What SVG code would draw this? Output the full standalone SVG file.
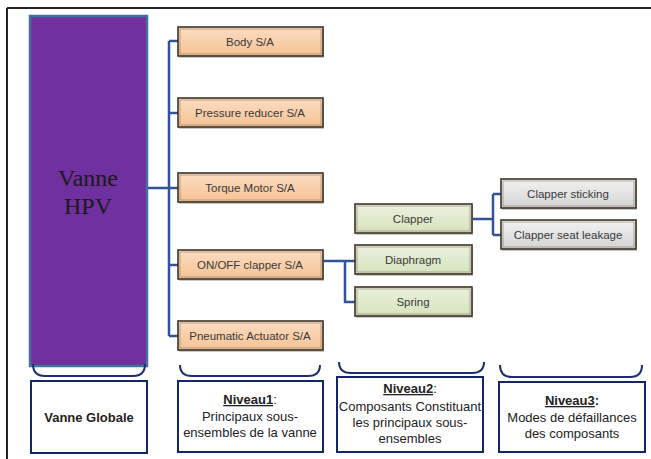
<svg xmlns="http://www.w3.org/2000/svg" width="651" height="459" viewBox="0 0 651 459">
<style>
.frame{stroke:#222;stroke-width:2;fill:none}
.conn{stroke:#2F5597;stroke-width:2.5;fill:none}
.brace{stroke:#1F2D6E;stroke-width:2;fill:none}
.lvl{fill:#fff;stroke:#14266B;stroke-width:2}
.box{stroke:#3E3225;stroke-width:1.6}
.inner{fill:none;stroke:#8a7a68;stroke-width:0.6}
.l1{fill:url(#gOr)}
.l2{fill:url(#gGr)}
.l3{fill:url(#gGy)}
.bt{font-family:"Liberation Sans",Arial,sans-serif;font-size:11.5px;fill:#3a3a3a;text-anchor:middle}
.lt{font-family:"Liberation Sans",Arial,sans-serif;font-size:13px;fill:#222;text-anchor:middle}
.lb{font-weight:bold;text-decoration:underline}
.shadow{fill:#c8c8c8}
</style>
<defs>
<linearGradient id="gOr" x1="0" y1="0" x2="0" y2="1"><stop offset="0" stop-color="#FCDDC2"/><stop offset="1" stop-color="#F6C293"/></linearGradient>
<linearGradient id="gGr" x1="0" y1="0" x2="0" y2="1"><stop offset="0" stop-color="#EBF1DF"/><stop offset="1" stop-color="#D6E3BD"/></linearGradient>
<linearGradient id="gGy" x1="0" y1="0" x2="0" y2="1"><stop offset="0" stop-color="#F2F2F2"/><stop offset="1" stop-color="#D4D4D4"/></linearGradient>
</defs>
<rect width="651" height="459" fill="#fff"/>
<g id="frame">
<line x1="7" y1="8" x2="651" y2="8" class="frame"/>
<line x1="7" y1="8" x2="7" y2="459" class="frame"/>
</g>
<g id="connectors">
<path class="conn" d="M147,188 H169 M169,41 V336 M169,41 H178 M169,113 H178 M169,188 H178 M169,265 H178 M169,336 H178"/>
<path class="conn" d="M323,261 H355 M345,261 V302 H355"/>
<path class="conn" d="M472,219 H493 M493,194 V235 M493,194 H501 M493,235 H501"/>
</g>
<g id="vanne-hpv">
<rect x="30" y="16" width="117" height="350" fill="#7030A0" stroke="#41719C" stroke-width="2.5"/>
<text x="88" y="186" font-family="Liberation Serif,'Times New Roman',serif" font-size="24" fill="#1a1a1a" text-anchor="middle">Vanne</text>
<text x="88" y="214" font-family="Liberation Serif,'Times New Roman',serif" font-size="24" fill="#1a1a1a" text-anchor="middle">HPV</text>
</g>
<g id="body">
<rect x="179" y="28" width="145" height="30" class="shadow"/>
<rect x="178" y="27" width="145" height="29" class="box l1"/><rect x="180" y="29" width="141" height="25" class="inner"/>
<text x="250" y="46" class="bt">Body S/A</text>
</g>
<g id="pressure-reducer">
<rect x="179" y="99" width="145" height="30" class="shadow"/>
<rect x="178" y="98" width="145" height="29" class="box l1"/><rect x="180" y="100" width="141" height="25" class="inner"/>
<text x="250" y="117" class="bt">Pressure reducer S/A</text>
</g>
<g id="torque-motor">
<rect x="179" y="174" width="145" height="30" class="shadow"/>
<rect x="178" y="173" width="145" height="29" class="box l1"/><rect x="180" y="175" width="141" height="25" class="inner"/>
<text x="250" y="192" class="bt">Torque Motor S/A</text>
</g>
<g id="onoff-clapper">
<rect x="179" y="251" width="145" height="30" class="shadow"/>
<rect x="178" y="250" width="145" height="29" class="box l1"/><rect x="180" y="252" width="141" height="25" class="inner"/>
<text x="250" y="269" class="bt">ON/OFF clapper  S/A</text>
</g>
<g id="pneumatic-actuator">
<rect x="179" y="322" width="145" height="30" class="shadow"/>
<rect x="178" y="321" width="145" height="29" class="box l1"/><rect x="180" y="323" width="141" height="25" class="inner"/>
<text x="250" y="340" class="bt">Pneumatic Actuator S/A</text>
</g>
<g id="clapper">
<rect x="356" y="205" width="117" height="30" class="shadow"/>
<rect x="355" y="204" width="117" height="29" class="box l2"/><rect x="357" y="206" width="113" height="25" class="inner"/>
<text x="413" y="223" class="bt">Clapper</text>
</g>
<g id="diaphragm">
<rect x="356" y="246" width="117" height="30" class="shadow"/>
<rect x="355" y="245" width="117" height="29" class="box l2"/><rect x="357" y="247" width="113" height="25" class="inner"/>
<text x="413" y="264" class="bt">Diaphragm</text>
</g>
<g id="spring">
<rect x="356" y="288" width="117" height="30" class="shadow"/>
<rect x="355" y="287" width="117" height="29" class="box l2"/><rect x="357" y="289" width="113" height="25" class="inner"/>
<text x="413" y="306" class="bt">Spring</text>
</g>
<g id="clapper-sticking">
<rect x="502" y="180" width="135" height="30" class="shadow"/>
<rect x="501" y="179" width="135" height="29" class="box l3"/><rect x="503" y="181" width="131" height="25" class="inner"/>
<text x="568" y="198" class="bt">Clapper  sticking</text>
</g>
<g id="clapper-seat-leakage">
<rect x="502" y="221" width="135" height="30" class="shadow"/>
<rect x="501" y="220" width="135" height="29" class="box l3"/><rect x="503" y="222" width="131" height="25" class="inner"/>
<text x="568" y="239" class="bt">Clapper seat  leakage</text>
</g>
<g id="braces">
<path class="brace" d="M33,364 Q33,376 45,376 H133 Q145,376 145,364"/>
<path class="brace" d="M180,365 Q180,376 192,376 H308 Q320,376 320,365"/>
<path class="brace" d="M339,362 Q339,373 351,373 H472 Q484,373 484,362"/>
<path class="brace" d="M500,365 Q500,377 512,377 H630 Q642,377 642,365"/>
</g>
<g id="vanne-globale">
<rect x="31" y="381" width="116" height="72" class="lvl"/>
<text x="89" y="422" class="lt" font-weight="bold" fill="#111">Vanne Globale</text>
</g>
<g id="niveau1">
<rect x="178" y="381" width="145" height="71" class="lvl"/>
<text x="250" y="404" class="lt"><tspan class="lb">Niveau1</tspan>:</text>
<text x="250" y="421" class="lt">Principaux sous-</text>
<text x="250" y="437" class="lt">ensembles de la vanne</text>
</g>
<g id="niveau2">
<rect x="337" y="377" width="146" height="75" class="lvl"/>
<text x="410" y="393" class="lt"><tspan class="lb">Niveau2</tspan>:</text>
<text x="410" y="411" class="lt">Composants Constituant</text>
<text x="410" y="427" class="lt">les principaux sous-</text>
<text x="410" y="443" class="lt">ensembles</text>
</g>
<g id="niveau3">
<rect x="499" y="382" width="146" height="70" class="lvl"/>
<text x="572" y="405" class="lt"><tspan class="lb">Niveau3</tspan><tspan font-weight="bold">:</tspan></text>
<text x="572" y="422" class="lt">Modes  de défaillances</text>
<text x="572" y="438" class="lt">des composants</text>
</g>
</svg>
